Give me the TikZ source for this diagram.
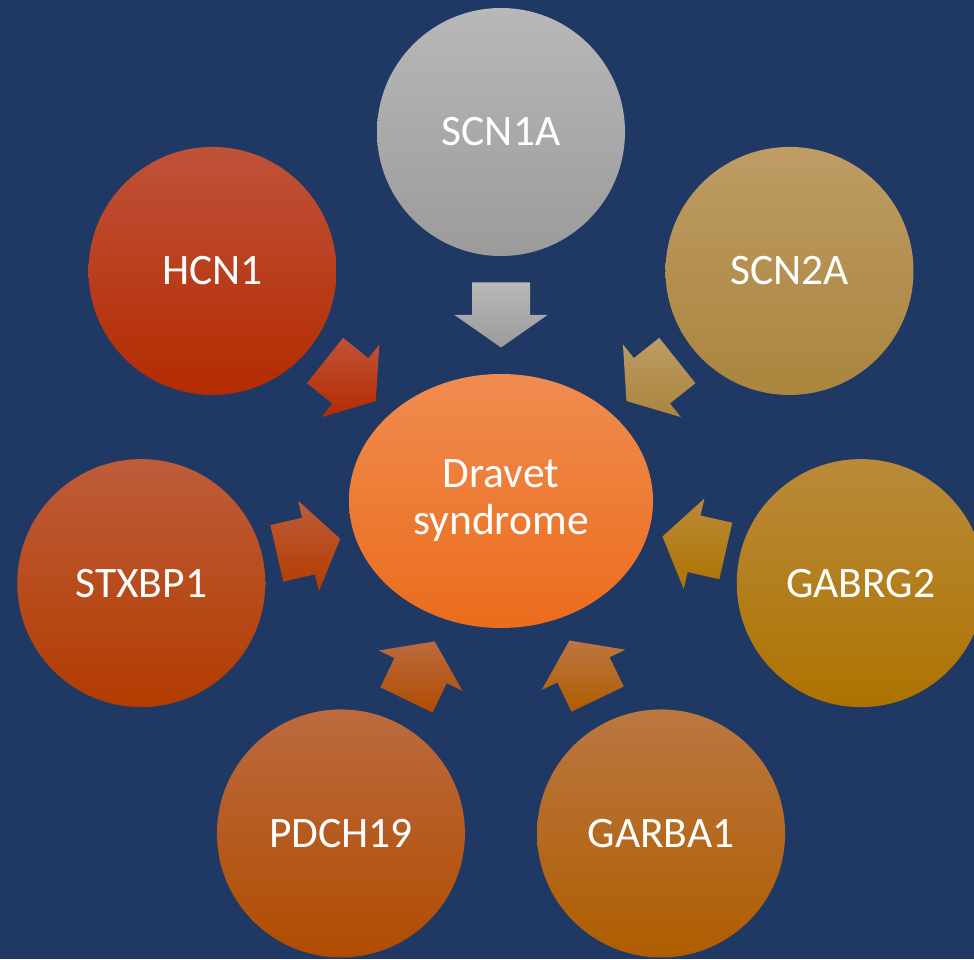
\documentclass[tikz,border=0pt]{standalone}
\usepackage{fontspec}
\setmainfont{Carlito}
\usetikzlibrary{shapes.geometric,calc}

\definecolor{bg}{HTML}{203864}
\definecolor{hubT}{HTML}{F08C50}\definecolor{hubB}{HTML}{EB6C1C}
\definecolor{scnaT}{HTML}{B8B8B8}\definecolor{scnaB}{HTML}{9B9B9B}
\definecolor{scnbT}{HTML}{BE9C64}\definecolor{scnbB}{HTML}{A9853D}
\definecolor{gabgT}{HTML}{BA8A3A}\definecolor{gabgB}{HTML}{AD7300}
\definecolor{garT}{HTML}{BB7741}\definecolor{garB}{HTML}{AF5D00}
\definecolor{pdcT}{HTML}{BC6A3F}\definecolor{pdcB}{HTML}{B04C00}
\definecolor{stxT}{HTML}{BE5C3A}\definecolor{stxB}{HTML}{B23C00}
\definecolor{hcnT}{HTML}{C0523A}\definecolor{hcnB}{HTML}{B32B00}

% block arrow from a gene circle towards the hub, halfway across the gap
% #1 gene node, #2 direction hub->gene, #3 direction gene->hub, #4/#5 top/bottom colour
\newcommand\feedarrow[5]{%
  \coordinate (m#1) at ($(#1.#3)!0.5!(dr.#2)$);
  \shade[top color=#4, bottom color=#5]
    ($(m#1)+(#2:32.5pt)+({#2+90}:29pt)$) -- ($(m#1)+({#2+90}:29pt)$)
    -- ($(m#1)+({#2+90}:46.5pt)$) -- ($(m#1)+({#2+180}:32.5pt)$)
    -- ($(m#1)+({#2-90}:46.5pt)$) -- ($(m#1)+({#2-90}:29pt)$)
    -- ($(m#1)+(#2:32.5pt)+({#2-90}:29pt)$) -- cycle;
}

\begin{document}
\begin{tikzpicture}[x=1pt,y=1pt,
  gene/.style={circle, minimum size=248pt, inner sep=0pt, text=white,
    font=\fontsize{43.5}{47}\selectfont},
  hub/.style={ellipse, minimum width=304pt, minimum height=254pt, inner sep=0pt,
    text=white, align=center, font=\fontsize{43.5}{47}\selectfont,
    top color=hubT, bottom color=hubB}]
\fill[bg] (0,0) rectangle (974,959);
\useasboundingbox (0,0) rectangle (974,959);
\coordinate (C) at (501,458);

\node[hub] (dr) at (C) {Dravet\\syndrome};

\node[gene, top color=scnaT, bottom color=scnaB] (g1) at ($(C)+(90:369pt)$) {SCN1A};
\node[gene, top color=scnbT, bottom color=scnbB] (g2) at ($(C)+(38.57:369pt)$) {SCN2A};
\node[gene, top color=gabgT, bottom color=gabgB] (g3) at ($(C)+(-12.86:369pt)$) {GABRG2};
\node[gene, top color=garT, bottom color=garB] (g4) at ($(C)+(-64.29:369pt)$) {GARBA1};
\node[gene, top color=pdcT, bottom color=pdcB] (g5) at ($(C)+(-115.71:369pt)$) {PDCH19};
\node[gene, top color=stxT, bottom color=stxB] (g6) at ($(C)+(-167.14:369pt)$) {STXBP1};
\node[gene, top color=hcnT, bottom color=hcnB] (g7) at ($(C)+(141.43:369pt)$) {HCN1};

\feedarrow{g1}{90}{270}{scnaT}{scnaB}
\feedarrow{g2}{38.57}{218.57}{scnbT}{scnbB}
\feedarrow{g3}{-12.86}{167.14}{gabgT}{gabgB}
\feedarrow{g4}{-64.29}{115.71}{garT}{garB}
\feedarrow{g5}{-115.71}{64.29}{pdcT}{pdcB}
\feedarrow{g6}{-167.14}{12.86}{stxT}{stxB}
\feedarrow{g7}{141.43}{321.43}{hcnT}{hcnB}
\end{tikzpicture}
\end{document}
